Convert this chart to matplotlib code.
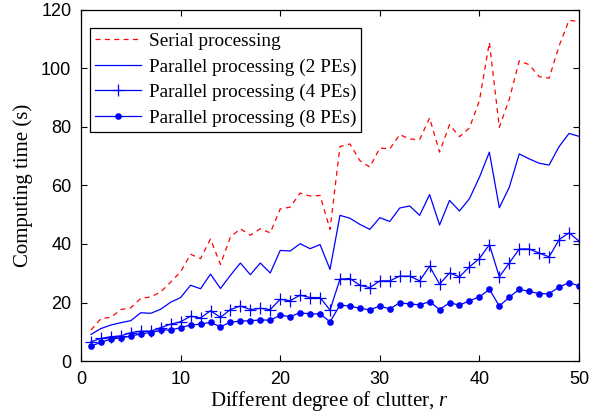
import numpy as np
import matplotlib
matplotlib.use("Agg")
import matplotlib.pyplot as plt

# degree of clutter r = 1..50
r = np.arange(1, 51)

serial = [10.6, 14.5, 14.9, 17.6, 18.2, 21.4, 21.9, 23.6, 27.0, 30.5,
          36.5, 35.0, 41.7, 33.0, 42.4, 45.2, 43.0, 45.2, 43.8, 52.0,
          52.6, 57.4, 56.4, 56.6, 45.0, 73.3, 74.2, 68.5, 66.3, 72.8,
          72.5, 77.4, 75.9, 75.7, 83.1, 71.4, 80.8, 76.7, 79.7, 89.0,
          108.9, 79.9, 89.5, 102.6, 101.3, 97.2, 96.7, 107.7, 116.5, 116.0]

pe2 = [9.1, 11.1, 12.3, 13.1, 13.8, 16.5, 16.3, 17.7, 20.1, 21.7,
       25.9, 24.7, 29.7, 24.8, 29.3, 33.5, 29.5, 33.5, 30.1, 37.8,
       37.6, 40.1, 38.4, 39.8, 31.3, 49.8, 48.8, 46.7, 45.0, 49.0,
       47.7, 52.3, 53.0, 49.8, 56.9, 46.5, 54.9, 51.3, 55.5, 62.8,
       71.4, 52.4, 59.4, 70.8, 69.1, 67.6, 67.0, 73.3, 77.8, 76.8]

pe4 = [6.6, 7.7, 8.3, 8.6, 9.7, 10.2, 10.2, 11.4, 12.6, 13.4,
       15.3, 14.7, 17.2, 14.9, 17.6, 18.8, 17.6, 18.0, 17.6, 21.1,
       20.6, 22.5, 21.7, 21.7, 17.4, 28.0, 28.2, 25.9, 25.1, 27.4,
       27.4, 29.0, 29.0, 27.4, 32.4, 26.3, 30.1, 28.8, 32.2, 35.0,
       39.8, 28.8, 33.5, 38.3, 38.3, 36.9, 35.6, 41.5, 43.8, 41.0]

pe8 = [5.1, 6.4, 7.5, 7.9, 8.5, 9.3, 9.7, 10.6, 10.6, 11.4,
       12.3, 12.6, 13.2, 11.7, 13.3, 13.6, 13.8, 14.0, 14.0, 15.6,
       15.2, 16.5, 16.1, 16.1, 13.4, 19.1, 18.8, 18.0, 17.5, 18.8,
       17.8, 19.9, 19.5, 19.2, 20.3, 17.6, 19.9, 19.1, 20.6, 21.9,
       24.5, 18.8, 21.8, 24.5, 23.8, 23.0, 23.0, 25.3, 26.8, 25.7]

labels = ["Serial processing", "Parallel processing (2 PEs)",
          "Parallel processing (4 PEs)", "Parallel processing (8 PEs)"]

serif = "Liberation Serif"
sans = "Liberation Sans"

plt.rcParams["mathtext.fontset"] = "custom"
plt.rcParams["mathtext.rm"] = serif
plt.rcParams["mathtext.it"] = serif + ":italic"

fig = plt.figure(figsize=(6.02, 4.16), dpi=100)
ax = fig.add_axes([0.1346, 0.1322, 0.8272, 0.8438])

ax.plot(r, serial, color="#ff0000", linestyle="--", linewidth=0.9, dashes=(4, 3.5),
        label=labels[0])
ax.plot(r, pe2, color="#0000ff", linewidth=0.9, label=labels[1])
ax.plot(r, pe4, color="#0000ff", linewidth=0.9, marker="+", markersize=8,
        markeredgewidth=0.9, label=labels[2])
ax.plot(r, pe8, color="#0000ff", linewidth=0.9, marker="o", markersize=4.8,
        markeredgewidth=0, label=labels[3])

ax.set_xlim(0, 50)
ax.set_ylim(0, 120)
ax.set_xticks(np.arange(0, 51, 10))
ax.set_yticks(np.arange(0, 121, 20))
ax.tick_params(direction="in", top=True, right=True, length=4, width=0.8,
               labelsize=13, pad=7)
for t in ax.get_xticklabels() + ax.get_yticklabels():
    t.set_fontfamily(sans)
for s in ax.spines.values():
    s.set_linewidth(0.9)

ax.set_xlabel("Different degree of clutter, $\\mathit{r}$", fontfamily=serif,
              fontsize=15, labelpad=1)
ax.set_ylabel("Computing time (s)", fontfamily=serif, fontsize=15, labelpad=6)

leg = ax.legend(loc="upper left", bbox_to_anchor=(0.018, 0.949), borderaxespad=0,
                prop={"family": serif, "size": 13.9}, fancybox=False,
                edgecolor="black", framealpha=1, handlelength=2.4,
                numpoints=1, labelspacing=0.41, borderpad=0.25, handletextpad=0.4)
leg.get_frame().set_linewidth(0.9)

fig.savefig("out.png", dpi=100)
